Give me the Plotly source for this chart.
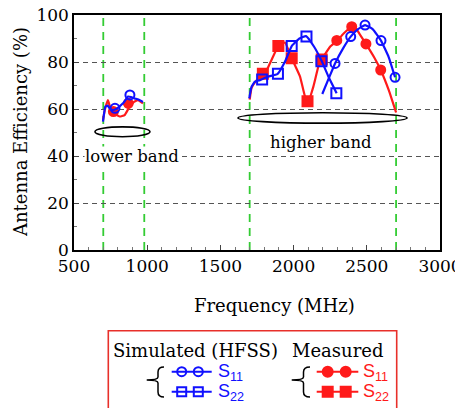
import plotly.graph_objects as go

# ---------------- data ----------------
# lower band, simulated S11 (blue)
sim_s11_low_f = [698, 714, 730, 743, 760, 789, 835, 869, 889, 914, 940, 971]
sim_s11_low_e = [54.6, 61.0, 61.5, 60.3, 59.6, 60.0, 62.4, 65.3, 65.1, 64.5, 64.0, 63.0]
sim_s11_low_mf = [780, 882]
sim_s11_low_me = [60.3, 66.0]

# lower band, measured S11 (red)
meas_s11_low_f = [698, 712, 732, 755, 780, 812, 846, 880, 910, 937, 971]
meas_s11_low_e = [55.3, 60.0, 63.8, 58.9, 57.8, 56.8, 57.4, 61.0, 63.0, 63.8, 62.4]
meas_s11_low_mf = [769, 871]
meas_s11_low_me = [58.9, 62.4]

# higher band, simulated S22 (blue squares)
sim_s22_f = [1697, 1713, 1736, 1770, 1827, 1889, 1940, 1987, 2040, 2085, 2140, 2192, 2240, 2294]
sim_s22_e = [64.5, 69.5, 71.6, 72.3, 73.8, 74.8, 80.0, 86.8, 90.0, 91.0, 86.5, 80.4, 73.5, 66.7]
sim_s22_mf = [1785, 1893, 1987, 2088, 2190, 2292]
sim_s22_me = [72.6, 75.0, 86.8, 90.8, 80.3, 66.7]

# higher band, simulated S11 (blue circles)
sim_s11_f = [2196, 2240, 2283, 2340, 2390, 2440, 2488, 2540, 2597, 2650, 2693]
sim_s11_e = [66.4, 73.0, 79.4, 86.0, 90.8, 94.0, 95.7, 94.0, 89.1, 82.0, 73.5]
sim_s11_mf = [2283, 2390, 2488, 2597, 2693]
sim_s11_me = [79.4, 90.8, 95.7, 89.1, 73.5]

# higher band, measured S22 (red squares)
meas_s22_f = [1700, 1713, 1748, 1790, 1820, 1850, 1896, 1941, 1987, 2044, 2078, 2101, 2135, 2169, 2192]
meas_s22_e = [64.0, 69.0, 72.3, 74.8, 77.0, 81.0, 86.8, 88.3, 81.6, 73.8, 65.3, 63.3, 69.5, 78.0, 81.1]
meas_s22_mf = [1790, 1896, 1987, 2095, 2192]
meas_s22_me = [75.0, 86.8, 81.6, 63.3, 81.1]

# higher band, measured S11 (red circles)
meas_s11_f = [2192, 2249, 2299, 2340, 2397, 2420, 2450, 2494, 2550, 2595, 2650, 2700]
meas_s11_e = [81.1, 86.5, 89.1, 92.0, 95.0, 94.8, 92.0, 87.7, 82.0, 76.6, 68.0, 58.5]
meas_s11_mf = [2295, 2397, 2494, 2595]
meas_s11_me = [89.2, 95.0, 87.7, 76.6]

band_edges = [700, 980, 1700, 2700]
x_ticks = [500, 1000, 1500, 2000, 2500, 3000]
y_ticks = [0, 20, 40, 60, 80, 100]

# ---------------- style ----------------
BLUE = "#1010ff"
RED = "#ff1a1a"
GREEN = "#33cc33"
SERIF = "DejaVu Serif"
SANS = "Arial"

OFF = 8  # page body margin
W, H = 463 - OFF, 408 - OFF
L, R, T, B = 74 - OFF, 23, 15 - OFF, 158
PW, PH = W - L - R, H - T - B


def px(x):  # screen pixel -> paper
    return (x - OFF - L) / PW


def py(y):
    return (H - B - (y - OFF)) / PH


fig = go.Figure()


def add_curve(f, e, mf, me, color, symbol):
    fig.add_trace(go.Scatter(x=f, y=e, mode="lines", line=dict(color=color, width=2.2,
                                                              shape="spline", smoothing=0.35),
                             showlegend=False, hoverinfo="skip"))
    fig.add_trace(go.Scatter(x=mf, y=me, mode="markers", showlegend=False, hoverinfo="skip",
                             marker=dict(symbol=symbol, size=10 if "square" in symbol else 9,
                                         color=color, line=dict(color=color, width=2))))


add_curve(meas_s11_low_f, meas_s11_low_e, meas_s11_low_mf, meas_s11_low_me, RED, "circle")
add_curve(sim_s11_low_f, sim_s11_low_e, sim_s11_low_mf, sim_s11_low_me, BLUE, "circle-open")
add_curve(meas_s22_f, meas_s22_e, meas_s22_mf, meas_s22_me, RED, "square")
add_curve(meas_s11_f, meas_s11_e, meas_s11_mf, meas_s11_me, RED, "circle")
add_curve(sim_s22_f, sim_s22_e, sim_s22_mf, sim_s22_me, BLUE, "square-open")
add_curve(sim_s11_f, sim_s11_e, sim_s11_mf, sim_s11_me, BLUE, "circle-open")

shapes = []
for xb in band_edges:
    shapes.append(dict(type="line", xref="x", yref="paper", x0=xb, x1=xb, y0=0, y1=1,
                       line=dict(color=GREEN, width=1.8, dash="8px,6px"), layer="below"))

# band ellipses
shapes.append(dict(type="circle", xref="x", yref="y", x0=643, x1=1019, y0=48.2, y1=52.4,
                   line=dict(color="black", width=1.6)))
shapes.append(dict(type="circle", xref="x", yref="y", x0=1620, x1=2775, y0=54.0, y1=58.4,
                   line=dict(color="black", width=1.6)))

# legend box
shapes.append(dict(type="rect", xref="paper", yref="paper", x0=px(108.3), x1=px(396.7),
                   y0=py(430), y1=py(330.7), line=dict(color="#e8302a", width=1.6)))


def brace(xe, xv, xt, ytop, ymid, ybot, color):
    pts = [
        f"M {px(xe)},{py(ytop)}",
        f"Q {px(xv)},{py(ytop)} {px(xv)},{py(ytop + 5)}",
        f"L {px(xv)},{py(ymid - 3)}",
        f"Q {px(xv)},{py(ymid)} {px(xt)},{py(ymid)}",
        f"Q {px(xv)},{py(ymid)} {px(xv)},{py(ymid + 3)}",
        f"L {px(xv)},{py(ybot - 5)}",
        f"Q {px(xv)},{py(ybot)} {px(xe)},{py(ybot)}",
    ]
    return dict(type="path", xref="paper", yref="paper", path=" ".join(pts),
                line=dict(color=color, width=1.5))


shapes.append(brace(164, 158, 146.7, 367, 380, 397, "black"))
shapes.append(brace(310, 303.5, 291.7, 367, 380, 397, "black"))


def legend_sample(x0, x1, y, mx, color, kind, filled):
    out = [dict(type="line", xref="paper", yref="paper", x0=px(x0), x1=px(x1),
                y0=py(y), y1=py(y), line=dict(color=color, width=2))]
    for m in mx:
        r = 5 if filled else 4.5
        out.append(dict(type="circle" if kind == "circle" else "rect", xref="paper", yref="paper",
                        x0=px(m - r), x1=px(m + r), y0=py(y + r), y1=py(y - r),
                        line=dict(color=color, width=2),
                        fillcolor=color if filled else "rgba(0,0,0,0)"))
    return out


shapes += legend_sample(171.7, 211.7, 371.7, [181.7, 198.3], BLUE, "circle", False)
shapes += legend_sample(171.7, 211.7, 391.7, [181.7, 198.3], BLUE, "square", False)
shapes += legend_sample(316.7, 358.3, 371.7, [327.7, 345.7], RED, "circle", True)
shapes += legend_sample(316.7, 358.3, 391.7, [327.7, 345.7], RED, "square", True)


def ann(text, x, y, size, family=SERIF, color="black", angle=0, xanchor="center", **kw):
    return dict(text=text, x=px(x), y=py(y), xref="paper", yref="paper", showarrow=False,
                xanchor=xanchor, yanchor="middle", textangle=angle,
                font=dict(family=family, size=size, color=color), **kw)


annotations = [
    dict(text="lower band", x=896, y=40, xref="x", yref="y", showarrow=False,
         xanchor="center", yanchor="middle",
         font=dict(family=SERIF, size=16.5, color="black"), bgcolor="white", borderpad=0),
    dict(text="higher band", x=2190, y=45.7, xref="x", yref="y", showarrow=False,
         xanchor="center", yanchor="middle",
         font=dict(family=SERIF, size=16.5, color="black")),
    ann("Frequency (MHz)", 274, 305, 18),
    ann("Antenna Efficiency (%)", 20, 132, 18, angle=-90),
    ann("Simulated (HFSS)", 195, 350, 18),
    ann("Measured", 337.5, 350, 18),
]
for xs, ys, lab, col in [(216, 372, "11", BLUE), (216, 392, "22", BLUE),
                         (361, 372, "11", RED), (361, 392, "22", RED)]:
    annotations.append(ann(f"S<sub>{lab}</sub>", xs, ys, 18, family=SANS, color=col,
                           xanchor="left"))

fig.update_layout(
    width=W, height=H,
    font=dict(family=SERIF),
    margin=dict(l=L, r=R, t=T, b=B, pad=0, autoexpand=False),
    paper_bgcolor="white", plot_bgcolor="white",
    showlegend=False,
    shapes=shapes, annotations=annotations,
    xaxis=dict(range=[500, 3000], tickvals=x_ticks, ticktext=[str(v) for v in x_ticks],
               automargin=False, ticklabeloverflow="allow",
               ticks="inside", ticklen=5, tickwidth=1, tickcolor="#444",
               minor=dict(ticks="inside", ticklen=3, dtick=100, tickcolor="#777", showgrid=False),
               showline=True, linecolor="black", linewidth=1.5, mirror=True,
               showgrid=False, zeroline=False,
               tickfont=dict(family=SERIF, size=17, color="black")),
    yaxis=dict(range=[0, 100], tickvals=y_ticks, ticktext=[str(v) for v in y_ticks],
               automargin=False, ticklabeloverflow="allow",
               ticks="inside", ticklen=5, tickwidth=1, tickcolor="#444",
               minor=dict(ticks="inside", ticklen=3, dtick=10, tickcolor="#777", showgrid=False),
               showline=True, linecolor="black", linewidth=1.5, mirror=True,
               showgrid=True, gridcolor="#555", gridwidth=1, griddash="5px,4px",
               zeroline=False,
               tickfont=dict(family=SERIF, size=17, color="black")),
)

fig.write_html("out.html")
